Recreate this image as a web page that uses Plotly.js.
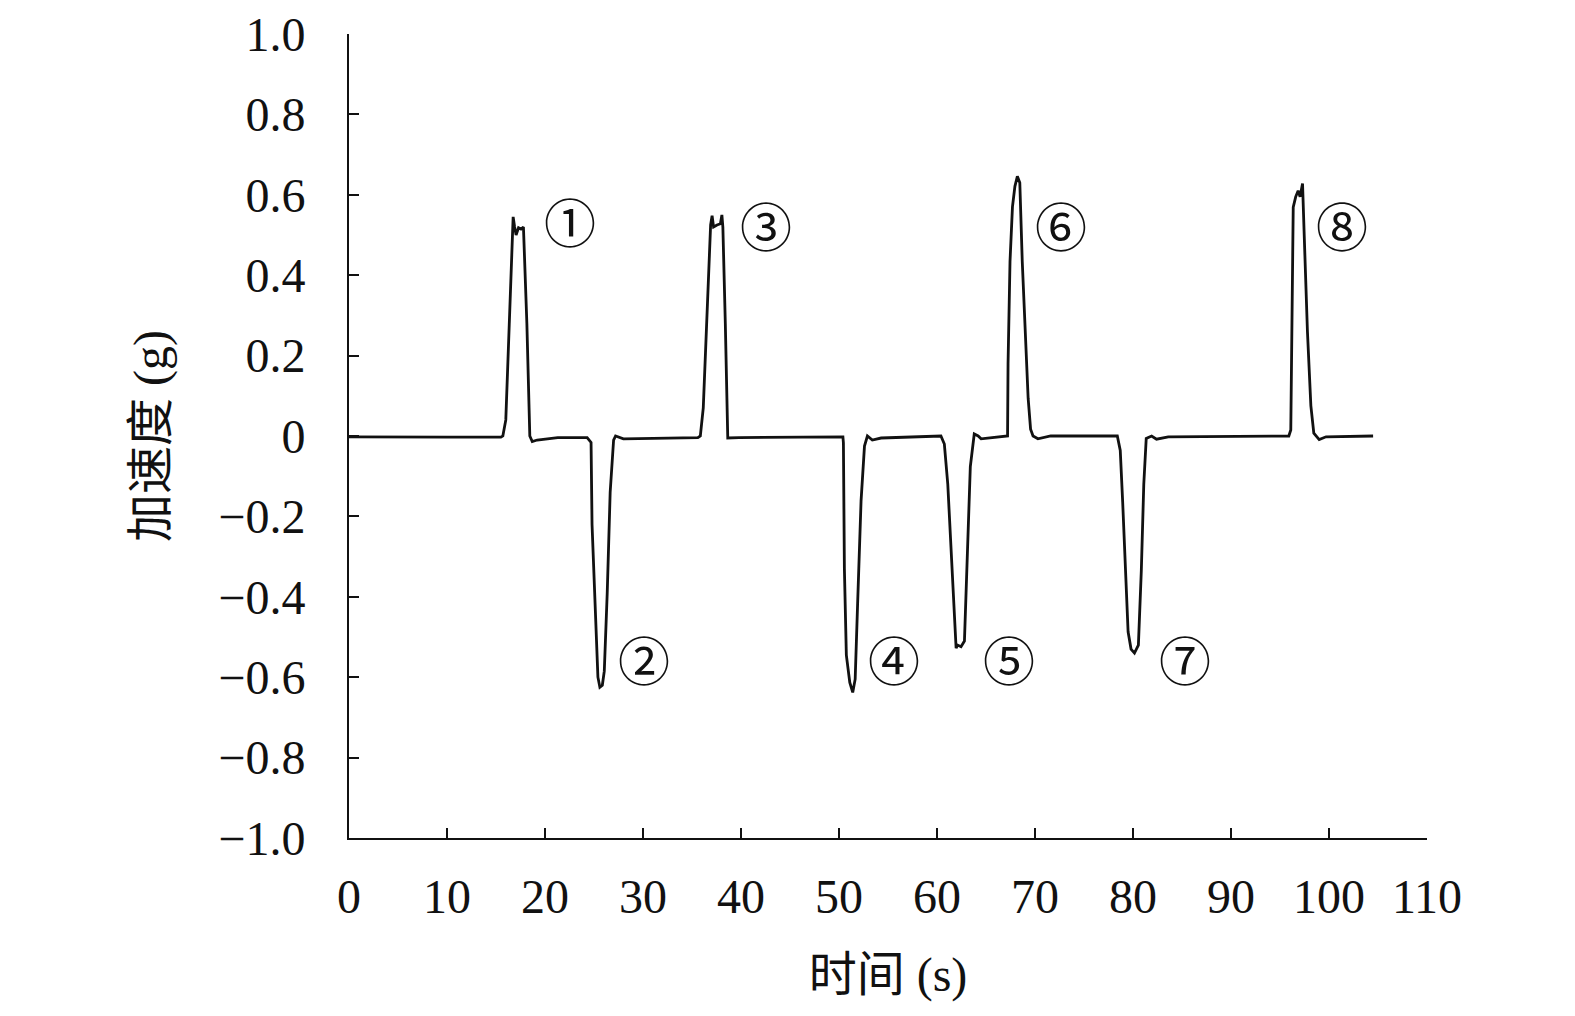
<!DOCTYPE html>
<html>
<head>
<meta charset="utf-8">
<script src="https://cdn.plot.ly/plotly-3.0.1.min.js"></script>
<style>
  html, body { margin: 0; padding: 0; background: #fff; }
  #chart { width: 1575px; height: 1016px; }
</style>
</head>
<body>
<div id="chart"></div>
<script>
// acceleration trace (time in s, acceleration in g)
var timeS = [
  0, 5, 10, 15.5, 15.7, 16.0, 16.35, 16.65, 16.75, 16.9, 17.05, 17.3, 17.55, 17.8, 18.15, 18.45, 18.7, 19.2, 21.3,
  24.3, 24.7, 24.8, 25.15, 25.4, 25.6, 25.85, 26.05, 26.35, 26.65, 27.0, 27.2, 28.0,
  35.6, 35.85, 36.15, 36.55, 36.9, 37.05, 37.2, 37.55, 37.9, 38.05, 38.15, 38.4, 38.65, 39.8,
  50.4, 50.45, 50.55, 50.75, 51.1, 51.4, 51.65, 51.9, 52.25, 52.6, 52.9, 53.4, 54.3,
  60.4, 60.75, 61.1, 61.45, 61.8, 61.95, 62.1, 62.45, 62.8, 63.05, 63.4, 63.8, 64.2, 64.5,
  67.2, 67.25, 67.45, 67.7, 67.95, 68.2, 68.45, 68.7, 69.0, 69.3, 69.55, 69.8, 70.3, 71.6,
  78.4, 78.7, 78.95, 79.2, 79.5, 79.8, 80.15, 80.55, 80.85, 81.1, 81.35, 81.9, 82.4, 83.6,
  95.9, 96.1, 96.2, 96.35, 96.6, 96.85, 97.05, 97.3, 97.45, 97.8, 98.15, 98.45, 99.0, 99.7, 104.5
];
var accelG = [
  -0.002, -0.003, -0.003, -0.003, 0.0, 0.04, 0.28, 0.50, 0.545, 0.52, 0.50, 0.518, 0.515, 0.52, 0.28, 0.0, -0.014, -0.01, -0.004,
  -0.004, -0.016, -0.22, -0.47, -0.60, -0.625, -0.62, -0.585, -0.39, -0.14, -0.01, 0.0, -0.007,
  -0.004, 0.0, 0.07, 0.32, 0.525, 0.548, 0.52, 0.525, 0.528, 0.55, 0.52, 0.28, -0.005, -0.004,
  -0.002, -0.017, -0.33, -0.545, -0.613, -0.638, -0.605, -0.417, -0.162, -0.025, 0.0, -0.01, -0.005,
  0.0, -0.02, -0.12, -0.29, -0.485, -0.528, -0.52, -0.524, -0.51, -0.33, -0.076, 0.005, 0.0, -0.007,
  0.0, 0.18, 0.434, 0.57, 0.621, 0.646, 0.63, 0.434, 0.262, 0.094, 0.017, 0.0, -0.007, 0.0,
  0.0, -0.036, -0.166, -0.334, -0.487, -0.53, -0.54, -0.52, -0.334, -0.12, -0.006, 0.0, -0.008, -0.002,
  0.0, 0.015, 0.26, 0.569, 0.595, 0.61, 0.595, 0.628, 0.515, 0.26, 0.075, 0.007, -0.009, -0.002, 0.0
];

// circled event markers
var markLabels = ["①", "②", "③", "④", "⑤", "⑥", "⑦", "⑧"];
var markX = [22.6, 30.1, 42.6, 55.6, 67.3, 72.7, 85.3, 101.3];
var markY = [0.535, -0.553, 0.525, -0.553, -0.553, 0.525, -0.553, 0.525];

// axis tick labels
var xTickVals = [0, 10, 20, 30, 40, 50, 60, 70, 80, 90, 100, 110];
var yTickVals = [1.0, 0.8, 0.6, 0.4, 0.2, 0, -0.2, -0.4, -0.6, -0.8, -1.0];
var yTickText = ["1.0", "0.8", "0.6", "0.4", "0.2", "0", "\u22120.2", "\u22120.4", "\u22120.6", "\u22120.8", "\u22121.0"];

var serif = "Liberation Serif, Noto Sans CJK SC, serif";

var trace = {
  type: "scatter",
  mode: "lines",
  x: timeS,
  y: accelG,
  line: { color: "#111", width: 2.8 },
  hoverinfo: "skip"
};

var annotations = [];
for (var i = 0; i < markLabels.length; i++) {
  annotations.push({
    x: markX[i], y: markY[i], xref: "x", yref: "y",
    text: markLabels[i], showarrow: false,
    font: { family: "Noto Sans CJK SC, DejaVu Sans, sans-serif", size: 52, color: "#111" }
  });
}

var layout = {
  width: 1575,
  height: 1016,
  paper_bgcolor: "#fff",
  plot_bgcolor: "#fff",
  showlegend: false,
  margin: { l: 349, r: 148, t: 34, b: 178, pad: 0 },
  font: { family: serif, color: "#111" },
  xaxis: {
    range: [0, 110],
    tickmode: "array",
    tickvals: xTickVals,
    ticks: "inside",
    ticklen: 10,
    tickwidth: 2,
    tickcolor: "#111",
    showline: true,
    linecolor: "#111",
    linewidth: 2,
    showgrid: false,
    zeroline: false,
    ticklabelstandoff: 15,
    tickfont: { family: serif, size: 48, color: "#111" },
    title: { text: "时间 (s)", font: { family: serif, size: 48, color: "#111" }, standoff: 36 }
  },
  yaxis: {
    range: [-1, 1],
    tickmode: "array",
    tickvals: yTickVals,
    ticktext: yTickText,
    ticks: "inside",
    ticklen: 10,
    tickwidth: 2,
    tickcolor: "#111",
    showline: true,
    linecolor: "#111",
    linewidth: 2,
    showgrid: false,
    zeroline: false,
    ticklabelstandoff: 32,
    tickfont: { family: serif, size: 48, color: "#111" },
    title: { text: "加速度 (g)", font: { family: serif, size: 48, color: "#111" }, standoff: 36 }
  },
  annotations: annotations
};

Plotly.newPlot("chart", [trace], layout, { displayModeBar: false, staticPlot: true });
</script>
</body>
</html>
